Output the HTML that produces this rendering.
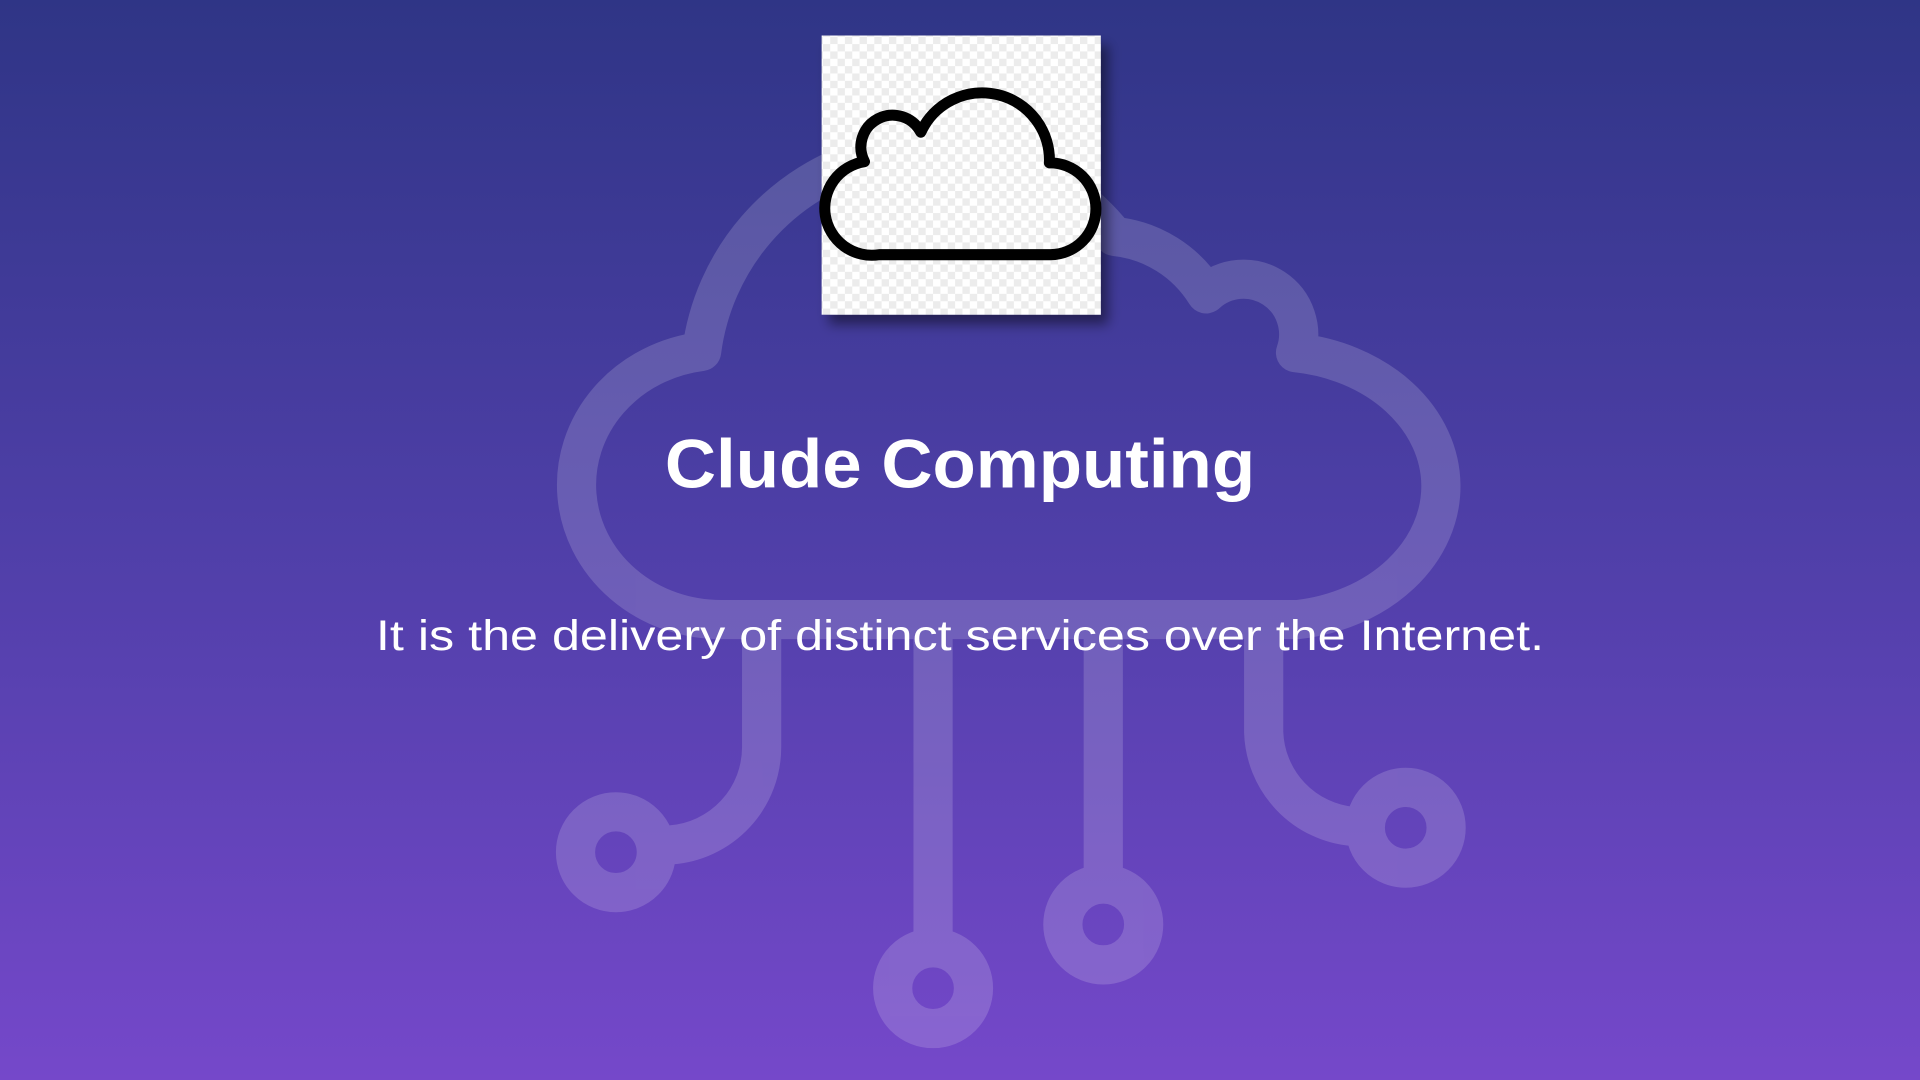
<!DOCTYPE html>
<html><head><meta charset="utf-8"><style>
html,body{margin:0;padding:0;width:1920px;height:1080px;overflow:hidden}
svg{display:block}
</style></head><body>
<svg width="1920" height="1080" viewBox="0 0 1568 882" preserveAspectRatio="none" xmlns="http://www.w3.org/2000/svg">
<defs>
<linearGradient id="bg" x1="0" y1="0" x2="0" y2="1">
<stop offset="0" stop-color="#2f3586"/>
<stop offset="0.5" stop-color="#4f3fa8"/>
<stop offset="1" stop-color="#7548ca"/>
</linearGradient>
<pattern id="chk" width="12" height="12" patternUnits="userSpaceOnUse">
<rect width="12" height="12" fill="#ffffff"/>
<rect width="6" height="6" fill="#ececec"/>
<rect x="6" y="6" width="6" height="6" fill="#ececec"/>
</pattern>
<filter id="sh" x="-20%" y="-20%" width="150%" height="150%">
<feDropShadow dx="6" dy="8" stdDeviation="5" flood-color="#000" flood-opacity="0.45"/>
</filter>
</defs>
<rect width="1568" height="882" fill="url(#bg)"/>
<g opacity="0.16" fill="none" stroke="#ffffff" stroke-width="32" stroke-linecap="butt" stroke-linejoin="round">
<path d="M 590 506 A 118 110 0 0 1 573 287 A 190 190 0 0 1 910 193 A 100 100 0 0 1 985 240 A 45 45 0 0 1 1058 288 A 136 110 0 0 1 1060 506 Z"/>
<path d="M 622 505 L 622 610 A 80 80 0 0 1 548 690"/>
<circle cx="503" cy="696" r="33"/>
<path d="M 762 505 L 762 774"/>
<circle cx="762" cy="807" r="33"/>
<path d="M 901 505 L 901 722"/>
<circle cx="901" cy="755" r="33"/>
<path d="M 1032 505 L 1032 598 A 80 80 0 0 0 1105 675"/>
<circle cx="1148" cy="676" r="33"/>
</g>
<rect x="671" y="29" width="228" height="228" fill="url(#chk)" filter="url(#sh)"/>
<path d="M 718 208 L 858 208 A 37 37 0 0 0 857 133 A 55 55 0 0 0 752 108 A 24 24 0 0 0 706 132 A 38 38 0 0 0 718 208 Z" fill="none" stroke="#000" stroke-width="9" stroke-linejoin="round"/>
<text x="784" y="398" text-anchor="middle" font-family="Liberation Sans, sans-serif" font-weight="bold" font-size="56" fill="#fff" textLength="482" lengthAdjust="spacingAndGlyphs">Clude Computing</text>
<text x="784" y="531" text-anchor="middle" font-family="Liberation Sans, sans-serif" font-size="35" fill="#fff" textLength="954" lengthAdjust="spacingAndGlyphs">It is the delivery of distinct services over the Internet.</text>
</svg>
</body></html>
